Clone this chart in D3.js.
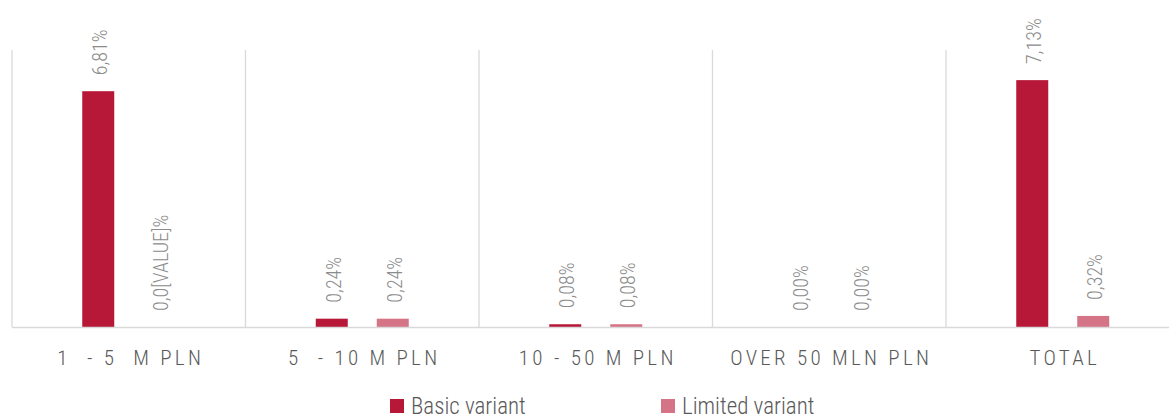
<!DOCTYPE html>
<html>
<head>
<meta charset="utf-8">
<script src="https://cdn.jsdelivr.net/npm/d3@7"></script>
<style>
  html, body { margin: 0; padding: 0; background: #ffffff; }
  svg { display: block; }
  text { font-family: "Roboto Condensed", "Liberation Sans Narrow", "Roboto", sans-serif; font-weight: 300; }
</style>
</head>
<body>
<svg id="chart" width="1169" height="418"></svg>
<script>
// Share of companies by revenue band, two scenario variants
const categories = ["1  - 5  M PLN", "5  - 10 M PLN", "10 - 50 M PLN", "OVER 50 MLN PLN", "TOTAL"];
const seriesNames = ["Basic variant", "Limited variant"];
const basicValues = [6.81, 0.24, 0.08, 0.00, 7.13];
const limitedValues = [0.00, 0.24, 0.08, 0.00, 0.32];
const basicLabels = ["6,81%", "0,24%", "0,08%", "0,00%", "7,13%"];
const limitedLabels = ["0,0[VALUE]%", "0,24%", "0,08%", "0,00%", "0,32%"];
const colors = ["#b71838", "#d47486"];

const svg = d3.select("#chart");

const x0 = d3.scaleBand()
  .domain(categories)
  .range([12, 1179.5])
  .padding(0);

const innerSpan = 93;
const x1 = d3.scaleBand()
  .domain(seriesNames)
  .range([(x0.bandwidth() - innerSpan) / 2, (x0.bandwidth() + innerSpan) / 2])
  .paddingInner(29 / 61);

const y = d3.scaleLinear().domain([0, 8]).range([327, 50]);

const rows = categories.map((c, i) => ({
  category: c,
  values: [
    { series: seriesNames[0], value: basicValues[i], label: basicLabels[i] },
    { series: seriesNames[1], value: limitedValues[i], label: limitedLabels[i] }
  ]
}));

// Vertical separators between categories
svg.append("g")
  .selectAll("line")
  .data(categories)
  .join("line")
  .attr("x1", d => x0(d))
  .attr("x2", d => x0(d))
  .attr("y1", y(8))
  .attr("y2", y(0))
  .attr("stroke", "#d9d9d9")
  .attr("stroke-width", 1.3);

// Bars
const groups = svg.append("g")
  .selectAll("g")
  .data(rows)
  .join("g")
  .attr("transform", d => `translate(${x0(d.category)},0)`);

groups.selectAll("rect")
  .data(d => d.values)
  .join("rect")
  .attr("x", d => x1(d.series))
  .attr("width", x1.bandwidth())
  .attr("y", d => y(d.value))
  .attr("height", d => y(0) - y(d.value))
  .attr("fill", (d, i) => colors[i]);

// Rotated value labels
groups.selectAll("text")
  .data(d => d.values)
  .join("text")
  .attr("transform", d => `translate(${x1(d.series) + x1.bandwidth() / 2 + 2},${y(d.value) - 16}) rotate(-90)`)
  .attr("dy", "0.36em")
  .attr("text-anchor", "start")
  .attr("font-size", 20)
  .attr("fill", "#8c8c8c")
  .text(d => d.label);

// Baseline
svg.append("line")
  .attr("x1", 12)
  .attr("x2", 1169)
  .attr("y1", y(0) + 0.5)
  .attr("y2", y(0) + 0.5)
  .attr("stroke", "#d9d9d9")
  .attr("stroke-width", 1.5);

// Category axis labels
const xAxis = d3.axisBottom(x0).tickSize(0).tickPadding(0);
const axisG = svg.append("g")
  .attr("transform", `translate(0,${y(0)})`)
  .call(xAxis);
axisG.select(".domain").remove();
axisG.selectAll("text")
  .attr("x", 2)
  .attr("y", 38)
  .attr("dy", 0)
  .attr("font-size", 21)
  .attr("fill", "#595959")
  .style("letter-spacing", "3.3px")
  .style("white-space", "pre")
  .style("font-family", null);

// Legend
const legendX = [390, 661];
const legend = svg.append("g")
  .selectAll("g")
  .data(seriesNames)
  .join("g")
  .attr("transform", (d, i) => `translate(${legendX[i]},399)`);
legend.append("rect")
  .attr("width", 14)
  .attr("height", 14)
  .attr("fill", (d, i) => colors[i]);
legend.append("text")
  .attr("x", 21)
  .attr("y", 14.5)
  .attr("font-size", 23)
  .attr("fill", "#595959")
  .text(d => d);
</script>
</body>
</html>
